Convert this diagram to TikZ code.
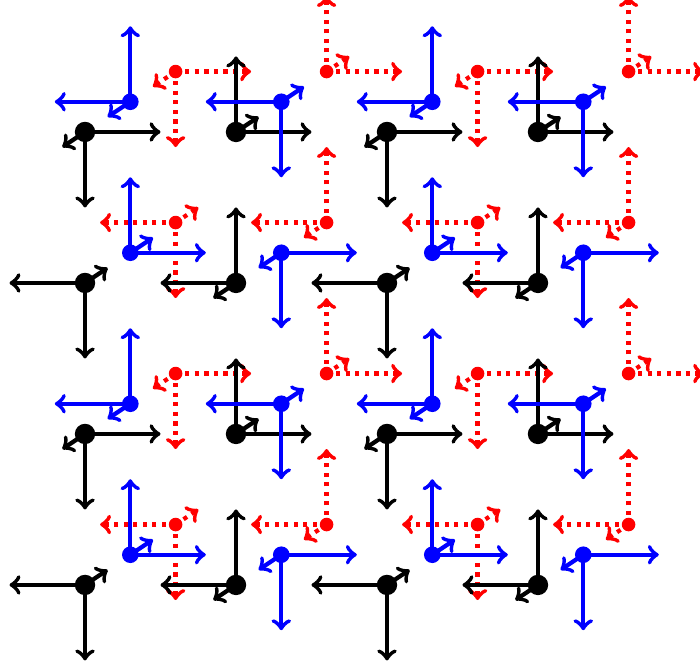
\documentclass[tikz,border=0pt]{standalone}
\usepackage{tikz}

\tikzset{
  spin/.style={->, line width=1.6pt},
  blackspin/.style={spin, black},
  bluespin/.style={spin, blue},
  redspin/.style={spin, red, dotted},
}

% one frame: x y sx sy style colour radius
\newcommand{\spinframe}[7]{
  \pgfmathsetmacro\sz{#3*#4}
  \draw[#5] (#1,#2) -- ++(#3,0);
  \draw[#5] (#1,#2) -- ++(0,#4);
  \draw[#5] (#1,#2) -- ++(0.3*\sz,0.2*\sz);
  \fill[#6] (#1,#2) circle (#7);
}

\begin{document}
\begin{tikzpicture}
  \useasboundingbox (-1.126,-7.086) rectangle (8.146,1.748);
  % layers from back to front
  \foreach \dx/\dy/\flip/\sty/\col/\rad in {1.2/0.8/1/redspin/red/0.09,
                                           0/0/1/blackspin/black/0.135,
                                           0.6/0.4/-1/bluespin/blue/0.11}{
    \foreach \i in {0,...,3}
      \foreach \j in {0,...,3}{
        \pgfmathsetmacro\sx{\flip*ifthenelse(mod(\j,2)==0,1,-1)}
        \pgfmathsetmacro\sy{\flip*ifthenelse(mod(\i,2)==0,-1,1)}
        \pgfmathsetmacro\px{2*\i+\dx}
        \pgfmathsetmacro\py{-2*\j+\dy}
        \spinframe{\px}{\py}{\sx}{\sy}{\sty}{\col}{\rad}
      }
  }
\end{tikzpicture}
\end{document}
